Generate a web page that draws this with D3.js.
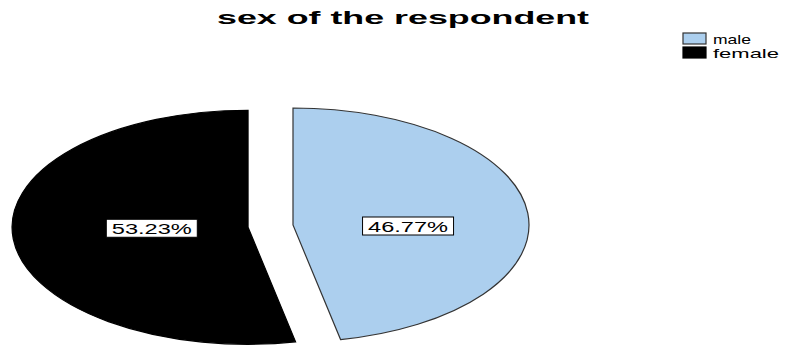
<!DOCTYPE html>
<html>
<head>
<meta charset="utf-8">
<script src="https://cdn.jsdelivr.net/npm/d3@7"></script>
<style>
  html, body { margin: 0; padding: 0; background: #fff; }
  svg { display: block; }
  text { font-family: "Liberation Sans", Arial, sans-serif; }
</style>
</head>
<body>
<svg id="chart" width="785" height="347"></svg>
<script>
// Respondent sex breakdown (percent)
const categories = ["male", "female"];
const percents = [46.77, 53.23];
const sliceLabels = ["46.77%", "53.23%"];
const colors = ["#accfee", "#000000"];
const strokes = ["#333333", "#000000"];
const exploded = [false, true];

const W = 785, H = 347;
const svg = d3.select("#chart");

// Pie geometry: a circle of radius R stretched horizontally into an ellipse
const cx = 293, cy = 225;
const R = 117, rx = 236;
const sx = rx / R;
const explodeDist = 22.4;
const labelFrac = [0.49, 0.41];

const pie = d3.pie().sort(null).value(d => d)(percents);
const arc = d3.arc().innerRadius(0).outerRadius(R);

// Title
svg.append("text")
  .attr("x", 403).attr("y", 24)
  .attr("text-anchor", "middle")
  .attr("font-size", 19).attr("font-weight", "bold")
  .attr("textLength", 372).attr("lengthAdjust", "spacingAndGlyphs")
  .attr("fill", "#000")
  .text("sex of the respondent");

const g = svg.append("g").attr("transform", `translate(${cx},${cy}) scale(${sx},1)`);

const offsets = pie.map((p, i) => {
  const mid = (p.startAngle + p.endAngle) / 2;
  const d = exploded[i] ? explodeDist : 0;
  return { mid, dx: d * Math.sin(mid), dy: -d * Math.cos(mid) };
});

g.selectAll("path.slice")
  .data(pie)
  .join("path")
  .attr("class", "slice")
  .attr("transform", (p, i) => `translate(${offsets[i].dx},${offsets[i].dy})`)
  .attr("d", arc)
  .attr("fill", (p, i) => colors[i])
  .attr("stroke", (p, i) => strokes[i])
  .attr("stroke-width", 1.2)
  .attr("vector-effect", "non-scaling-stroke");

// Percentage labels in white boxes
pie.forEach((p, i) => {
  const o = offsets[i];
  const px = cx + (o.dx + labelFrac[i] * R * Math.sin(o.mid)) * sx;
  const py = cy + o.dy + 1;
  const lg = svg.append("g").attr("transform", `translate(${px},${py})`);
  const bw = 91, bh = 18;
  lg.append("rect")
    .attr("x", -bw / 2).attr("y", -bh / 2)
    .attr("width", bw).attr("height", bh)
    .attr("fill", "#fff").attr("stroke", "#000").attr("stroke-width", 1);
  lg.append("text")
    .attr("x", 0).attr("y", 5.5)
    .attr("text-anchor", "middle")
    .attr("font-size", 14)
    .attr("textLength", 80).attr("lengthAdjust", "spacingAndGlyphs")
    .attr("fill", "#000")
    .text(sliceLabels[i]);
});

// Legend
const legend = svg.append("g").attr("transform", "translate(683,33)");
const legendLen = [38, 66];
categories.forEach((c, i) => {
  const row = legend.append("g").attr("transform", `translate(0,${i * 14})`);
  row.append("rect")
    .attr("x", 0).attr("y", 0).attr("width", 23).attr("height", 11)
    .attr("fill", colors[i]).attr("stroke", strokes[i]).attr("stroke-width", 1.2);
  row.append("text")
    .attr("x", 30).attr("y", 11)
    .attr("font-size", 13)
    .attr("textLength", legendLen[i]).attr("lengthAdjust", "spacingAndGlyphs")
    .attr("fill", "#000")
    .text(c);
});
</script>
</body>
</html>
